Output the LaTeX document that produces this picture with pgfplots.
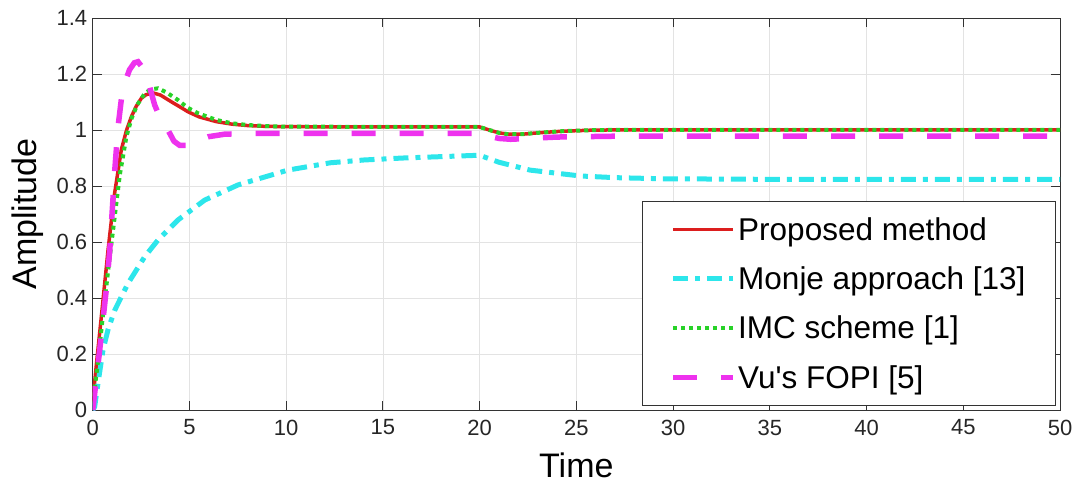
\documentclass[border=0pt]{standalone}
\usepackage{fontspec}
\setmainfont{Liberation Sans}
\newfontfamily\plainfont{Liberation Sans}
\usepackage{pgfplots}
\pgfplotsset{compat=1.18}
\definecolor{cRed}{RGB}{220,30,30}
\definecolor{cCyan}{RGB}{45,230,235}
\definecolor{cGreen}{RGB}{40,210,40}
\definecolor{cMag}{RGB}{238,50,238}
\begin{document}
\begin{tikzpicture}
\begin{axis}[
  scale only axis, width=967pt, height=392pt,
  xmin=0, xmax=50, ymin=0, ymax=1.4,
  xtick={0,5,10,15,20,25,30,35,40,45,50},
  ytick={0,0.2,0.4,0.6,0.8,1,1.2,1.4},
  grid=major, major grid style={black!11, line width=0.8pt},
  axis line style={black!80, line width=1pt},
  tick style={black!80, line width=1pt}, tick align=inside, major tick length=9pt,
  ticklabel style={font=\fontsize{22}{26}\selectfont, text=black!85},
  /pgf/number format/assume math mode=true,
  yticklabel style={/pgf/number format/fixed, /pgf/number format/precision=1, xshift=-2pt},
  xticklabel style={yshift=-6pt},
  xlabel={Time}, ylabel={Amplitude},
  label style={font=\fontsize{34}{40}\selectfont},
  xlabel style={at={(axis description cs:0.5,-0.14)}, anchor=center},
  ylabel style={at={(axis description cs:-0.067,0.5)}, anchor=center},
  legend cell align=left,
  legend image code/.code={\draw[#1] (0pt,0pt) -- (60pt,0pt);},
  legend style={at={(1,0)}, anchor=south east, xshift=-4pt, yshift=4pt,
    draw=black!80, line width=1pt, fill=white,
    font=\fontsize{31.5}{37}\selectfont, inner xsep=28pt, inner ysep=14pt,
    row sep=21pt},
]
\addplot[cRed, line width=3.5pt] coordinates {
(0,0.03)(0.2,0.17)(0.44,0.33)(0.79,0.57)(1.1,0.76)(1.48,0.93)(1.75,1.0)(2.0,1.048)(2.25,1.085)(2.51,1.113)(2.75,1.126)(3.1,1.133)(3.5,1.125)(4.06,1.101)(4.5,1.083)(4.93,1.065)(5.5,1.047)(6.39,1.030)(7.2,1.021)(8,1.016)(9,1.013)(10,1.012)(14,1.011)(20,1.011)(20.5,1.0)(21,0.99)(21.5,0.985)(22.2,0.985)(23,0.99)(24.3,0.996)(26,1.0)(30,1.001)(50,1.001)};
\addlegendentry{Proposed method}
\addplot[cCyan, line width=5pt, dash pattern=on 15pt off 7pt on 5pt off 7pt] coordinates {
(0,0)(0.1,0.012)(0.27,0.095)(0.53,0.214)(0.8,0.29)(1.14,0.357)(1.82,0.452)(2.69,0.548)(3.37,0.607)(4.41,0.679)(5.79,0.75)(7.51,0.804)(10.09,0.857)(12.27,0.883)(14,0.893)(16,0.9)(18,0.905)(20,0.91)(21,0.885)(22.6,0.857)(25.2,0.836)(27,0.83)(29.5,0.826)(35,0.824)(50,0.824)};
\addlegendentry{Monje approach [13]}
\addplot[cGreen, line width=4pt, dash pattern=on 4pt off 4pt] coordinates {
(0,0.02)(0.25,0.16)(0.5,0.32)(0.8,0.5)(1.1,0.67)(1.4,0.84)(1.74,0.976)(2.0,1.04)(2.3,1.09)(2.69,1.131)(3.0,1.145)(3.37,1.149)(3.8,1.135)(4.41,1.107)(4.9,1.08)(5.44,1.06)(6.39,1.036)(7.2,1.024)(8,1.018)(9,1.014)(10,1.012)(20,1.011)(20.5,1.0)(21,0.99)(21.5,0.985)(22.2,0.985)(23,0.99)(24.3,0.996)(26,1.0)(30,1.001)(50,1.001)};
\addlegendentry{IMC scheme [1]}
\addplot[cMag, line width=5.5pt, dash pattern=on 24pt off 24pt] coordinates {
(0,0)(0.36,0.214)(0.7,0.43)(0.88,0.57)(1.14,0.857)(1.31,1.012)(1.48,1.11)(1.65,1.167)(1.9,1.215)(2.15,1.24)(2.34,1.244)(2.55,1.225)(2.75,1.19)(2.94,1.155)(3.2,1.09)(3.5,1.04)(3.89,1.0)(4.2,0.96)(4.5,0.945)(4.9,0.945)(5.4,0.962)(5.96,0.976)(6.8,0.985)(8,0.988)(20,0.988)(20.5,0.978)(21,0.97)(21.6,0.967)(22.5,0.97)(24,0.975)(27,0.978)(50,0.978)};
\addlegendentry{{\plainfont Vu's FOPI [5]}}
\end{axis}
\path (current axis.south west) -- ++(-92.7pt,-78pt);
\path (current axis.north east) -- ++(16pt,18pt);
\end{tikzpicture}
\end{document}
